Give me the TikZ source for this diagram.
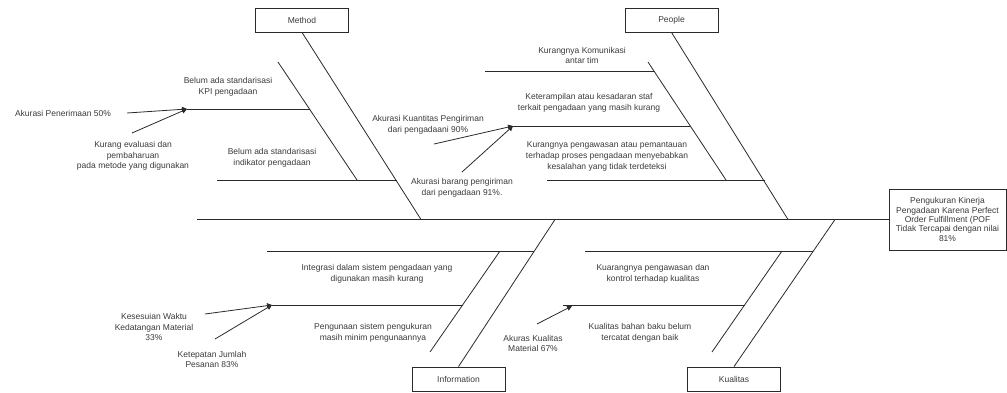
\documentclass[tikz,border=0pt]{standalone}
\usepackage{fontspec}
\setmainfont{Liberation Sans}
\usetikzlibrary{arrows.meta}
\definecolor{txt}{HTML}{3A3A3A}
\definecolor{ln}{HTML}{2A2A2A}
\begin{document}
\begin{tikzpicture}[x=1pt,y=-1pt,
  bone/.style={draw=ln,line width=0.8pt},
  arr/.style={draw=ln,line width=0.8pt,-{Triangle[length=5pt,width=5pt]}},
  catbox/.style={draw=ln,line width=0.8pt,minimum width=93pt,minimum height=24pt,inner sep=0pt,font=\fontsize{8.5}{10}\selectfont,text=txt},
  lbl/.style={align=center,inner sep=0pt,font=\fontsize{8.5}{10.6}\selectfont,text=txt}]
\useasboundingbox (0,0) rectangle (1007,392);
% category boxes
\node[catbox] (method) at (302,20) {Method};
\node[catbox] (people) at (671.5,20) {People};
\node[catbox] (info) at (458.5,379) {Information};
\node[catbox] (kual) at (734,379) {Kualitas};
\node[draw=ln,line width=0.8pt,minimum width=117pt,minimum height=61pt,inner sep=1pt,align=center,
  font=\fontsize{8.5}{9.4}\selectfont,text=txt] (effect) at (947.5,219.5)
  {Pengukuran Kinerja\\Pengadaan Karena Perfect\\Order Fulfillment (POF\\Tidak Tercapai dengan nilai\\81\%};
% spine
\coordinate (tail) at (197,219.5);
\draw[bone] (effect.west) -- (tail);
% main bones
\coordinate (mJ) at (421,219.5);
\coordinate (pJ) at (788,219.5);
\coordinate (iJ) at (555,219.5);
\coordinate (kJ) at (835,219.5);
\draw[bone] (method.south) -- (mJ);
\draw[bone] (people.south) -- (pJ);
\draw[bone] (info.north) -- (iJ);
\draw[bone] (kual.north) -- (kJ);
% Method sub-bones
\coordinate (m1a) at (278,62); \coordinate (m1b) at (357,180);
\draw[bone] (m1a) -- (m1b);
\coordinate (mh1a) at (187,109); \coordinate (mh1b) at (310,109);
\draw[bone] (mh1a) -- (mh1b);
\coordinate (mh2a) at (217,180); \coordinate (mh2b) at (397,180);
\draw[bone] (mh2a) -- (mh2b);
% People sub-bones
\coordinate (p1a) at (648,62); \coordinate (p1b) at (726,180);
\draw[bone] (p1a) -- (p1b);
\coordinate (ph0a) at (485,71); \coordinate (ph0b) at (654,71);
\draw[bone] (ph0a) -- (ph0b);
\coordinate (ph1a) at (513,126); \coordinate (ph1b) at (690,126);
\draw[bone] (ph1a) -- (ph1b);
\coordinate (ph2a) at (547,180); \coordinate (ph2b) at (765,180);
\draw[bone] (ph2a) -- (ph2b);
% Information sub-bones
\coordinate (i1a) at (500,251); \coordinate (i1b) at (430,352);
\draw[bone] (i1a) -- (i1b);
\coordinate (ih1a) at (267,251); \coordinate (ih1b) at (534,251);
\draw[bone] (ih1a) -- (ih1b);
\coordinate (ih2a) at (272,305); \coordinate (ih2b) at (463,305);
\draw[bone] (ih2a) -- (ih2b);
% Kualitas sub-bones
\coordinate (k1a) at (782,251); \coordinate (k1b) at (712,352);
\draw[bone] (k1a) -- (k1b);
\coordinate (kh1a) at (585,251); \coordinate (kh1b) at (813,251);
\draw[bone] (kh1a) -- (kh1b);
\coordinate (kh2a) at (563,305); \coordinate (kh2b) at (745,305);
\draw[bone] (kh2a) -- (kh2b);
% labels Method
\node[lbl] (akp) at (63,113) {Akurasi Penerimaan 50\%};
\node[lbl] (kev) at (133,156) {Kurang evaluasi dan\\pembaharuan\\pada metode yang digunakan};
\node[lbl] (bkpi) at (228,86.5) {Belum ada standarisasi\\KPI pengadaan};
\node[lbl] (bind) at (272,157.5) {Belum ada standarisasi\\indikator pengadaan};
\coordinate (a1s) at (127,113); \coordinate (a2s) at (132,133);
\draw[arr] (a1s) -- (mh1a);
\draw[arr] (a2s) -- (mh1a);
% labels People
\node[lbl] (kom) at (582,55.5) {Kurangnya Komunikasi\\antar tim};
\node[lbl] (ket) at (589,102.5) {Keterampilan atau kesadaran staf\\terkait pengadaan yang masih kurang};
\node[lbl] (pengaw) at (607,156.5) {Kurangnya pengawasan atau pemantauan\\terhadap proses pengadaan menyebabkan\\kesalahan yang tidak terdeteksi};
\node[lbl] (akk) at (428,124.5) {Akurasi Kuantitas Pengiriman\\dari pengadaani 90\%};
\node[lbl] (akb) at (462,188) {Akurasi barang pengiriman\\dari pengadaan 91\%.};
\coordinate (a3s) at (434,144); \coordinate (a4s) at (462,172);
\draw[arr] (a3s) -- (ph1a);
\draw[arr] (a4s) -- (ph1a);
% labels Information
\node[lbl] (integ) at (377,273.5) {Integrasi dalam sistem pengadaan yang\\digunakan masih kurang};
\node[lbl] (pengu) at (373,332.5) {Pengunaan sistem pengukuran\\masih minim pengunaannya};
\node[lbl] (kws) at (154,327) {Kesesuian Waktu\\Kedatangan Material\\33\%};
\node[lbl] (kjp) at (212,359.5) {Ketepatan Jumlah\\Pesanan 83\%};
\coordinate (a5s) at (205,314); \coordinate (a6s) at (215,339);
\draw[arr] (a5s) -- (ih2a);
\draw[arr] (a6s) -- (ih2a);
% labels Kualitas
\node[lbl] (kpk) at (653,273.5) {Kuarangnya pengawasan dan\\kontrol terhadap kualitas};
\node[lbl] (kbb) at (640,332.5) {Kualitas bahan baku belum\\tercatat dengan baik};
\node[lbl] (akm) at (533,343.5) {Akuras Kualitas\\Material 67\%};
\coordinate (a7s) at (537,324); \coordinate (a7e) at (572,306);
\draw[arr] (a7s) -- (a7e);
\end{tikzpicture}
\end{document}
